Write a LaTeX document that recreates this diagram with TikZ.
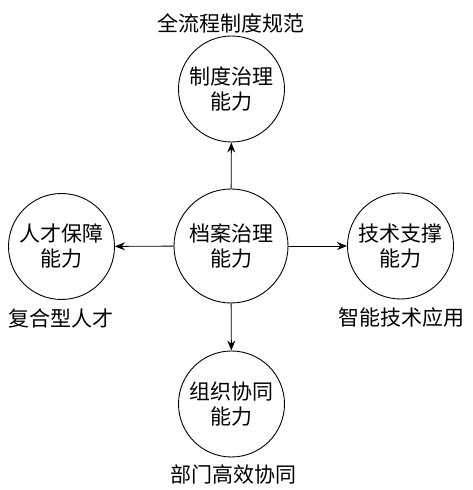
\documentclass[tikz,border=0pt]{standalone}
\usepackage{fontspec}
\setmainfont{Noto Sans CJK SC}
\usetikzlibrary{arrows.meta}

\begin{document}
\begin{tikzpicture}[x=1pt, y=1pt, > = {Stealth[length=10pt, width=8pt]},
	ability/.style = {circle, draw, line width=0.9pt, minimum size=106pt, inner sep=0pt,
	                  align=center, font=\fontsize{21}{25}\selectfont},
	caption/.style = {font=\fontsize{21}{24}\selectfont, inner sep=0pt},
	link/.style    = {->, line width=0.9pt},
	]

	\useasboundingbox (0,0) rectangle (473,490);

	\node[ability, minimum size=114pt] (dangan) at (231,244) {档案治理\\能力}; % centre
	\node[ability] (zhidu)  at (231.5,401) {制度治理\\能力}; % top
	\node[ability] (rencai) at (61.5,243.5) {人才保障\\能力}; % left
	\node[ability] (jishu)  at (400.5,244) {技术支撑\\能力}; % right
	\node[ability] (zuzhi)  at (231.5,86)  {组织协同\\能力}; % bottom

	\node[caption] (zhidu-text)  at (231,467) {全流程制度规范};
	\node[caption] (rencai-text) at (61,172)  {复合型人才};
	\node[caption] (jishu-text)  at (401,172) {智能技术应用};
	\node[caption] (zuzhi-text)  at (233,15)  {部门高效协同};

	\draw[link] (dangan) -- (zhidu);
	\draw[link] (dangan) -- (rencai);
	\draw[link] (dangan) -- (jishu);
	\draw[link] (dangan) -- (zuzhi);

\end{tikzpicture}
\end{document}
